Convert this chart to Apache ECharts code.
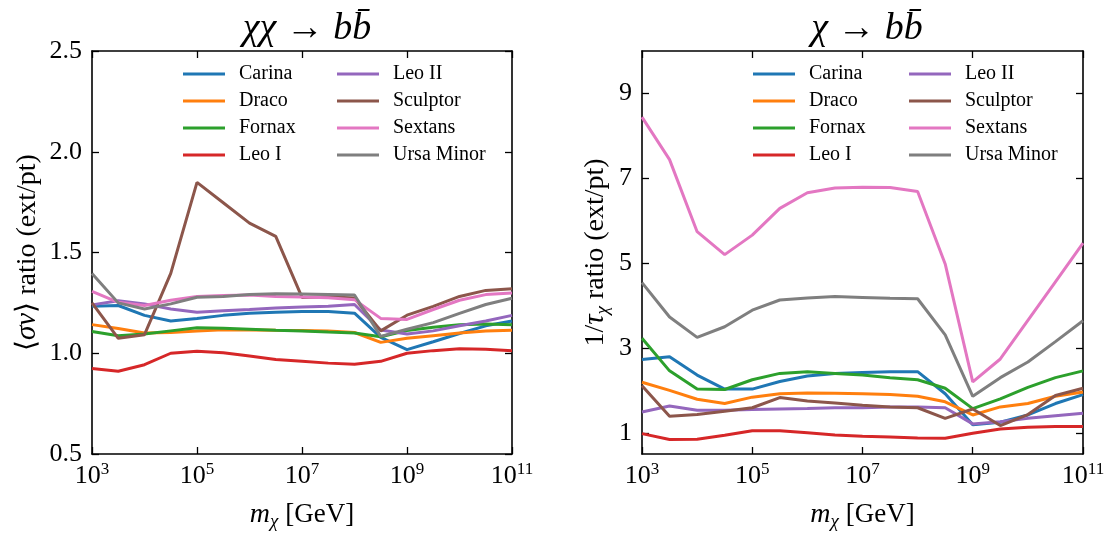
<!DOCTYPE html>
<html><head><meta charset="utf-8">
<script src="https://cdn.jsdelivr.net/npm/echarts@6/dist/echarts.min.js"></script>
<style>html,body{margin:0;padding:0;background:#fff}#c{width:1111px;height:536px}</style>
</head><body><div id="c"></div>
<script>
// DM masses [GeV], half-decade steps
const masses = [1e3, 3.162e3, 1e4, 3.162e4, 1e5, 3.162e5, 1e6, 3.162e6, 1e7, 3.162e7, 1e8, 3.162e8, 1e9, 3.162e9, 1e10, 3.162e10, 1e11];
const names = ['Carina', 'Draco', 'Fornax', 'Leo I', 'Leo II', 'Sculptor', 'Sextans', 'Ursa Minor'];
const colors = ['#1f77b4', '#ff7f0e', '#2ca02c', '#d62728', '#9467bd', '#8c564b', '#e377c2', '#7f7f7f'];

// Left panel: <sigma v> ratio (ext/pt), chi chi -> b bbar
const annCarina    = [1.233, 1.237, 1.188, 1.160, 1.173, 1.188, 1.198, 1.204, 1.207, 1.207, 1.199, 1.079, 1.018, 1.057, 1.098, 1.136, 1.160];
const annDraco     = [1.142, 1.123, 1.100, 1.103, 1.111, 1.116, 1.116, 1.114, 1.113, 1.110, 1.103, 1.054, 1.074, 1.087, 1.100, 1.110, 1.114];
const annFornax    = [1.108, 1.087, 1.095, 1.111, 1.126, 1.124, 1.119, 1.114, 1.110, 1.105, 1.101, 1.082, 1.113, 1.129, 1.142, 1.145, 1.142];
const annLeoI      = [0.924, 0.911, 0.943, 1.000, 1.010, 1.002, 0.986, 0.969, 0.960, 0.951, 0.945, 0.960, 1.000, 1.013, 1.022, 1.020, 1.013];
const annLeoII     = [1.240, 1.261, 1.245, 1.220, 1.204, 1.211, 1.217, 1.225, 1.230, 1.233, 1.242, 1.115, 1.095, 1.111, 1.136, 1.160, 1.188];
const annSculptor  = [1.250, 1.074, 1.092, 1.396, 1.848, 1.747, 1.646, 1.580, 1.277, 1.280, 1.274, 1.111, 1.189, 1.233, 1.282, 1.312, 1.320];
const annSextans   = [1.307, 1.253, 1.237, 1.263, 1.282, 1.286, 1.289, 1.282, 1.279, 1.276, 1.266, 1.173, 1.168, 1.217, 1.263, 1.291, 1.299];
const annUrsaMinor = [1.396, 1.250, 1.220, 1.245, 1.278, 1.282, 1.292, 1.295, 1.294, 1.292, 1.289, 1.084, 1.119, 1.152, 1.198, 1.242, 1.273];

// Right panel: 1/tau ratio (ext/pt), chi -> b bbar
const decCarina    = [2.73, 2.79, 2.36, 2.03, 2.03, 2.21, 2.34, 2.40, 2.42, 2.44, 2.44, 1.92, 1.19, 1.25, 1.42, 1.69, 1.90];
const decDraco     = [2.19, 2.00, 1.79, 1.69, 1.84, 1.92, 1.94, 1.93, 1.92, 1.90, 1.86, 1.73, 1.42, 1.61, 1.69, 1.86, 1.96];
const decFornax    = [3.23, 2.46, 2.03, 2.02, 2.25, 2.40, 2.44, 2.40, 2.36, 2.30, 2.25, 2.05, 1.57, 1.80, 2.07, 2.30, 2.46];
const decLeoI      = [0.98, 0.84, 0.85, 0.94, 1.05, 1.05, 1.00, 0.95, 0.92, 0.90, 0.88, 0.87, 0.99, 1.09, 1.13, 1.15, 1.15];
const decLeoII     = [1.49, 1.63, 1.53, 1.53, 1.55, 1.56, 1.57, 1.59, 1.59, 1.61, 1.61, 1.59, 1.21, 1.26, 1.34, 1.40, 1.46];
const decSculptor  = [2.11, 1.39, 1.43, 1.51, 1.59, 1.83, 1.75, 1.70, 1.65, 1.61, 1.59, 1.34, 1.56, 1.17, 1.43, 1.88, 2.05];
const decSextans   = [8.44, 7.44, 5.74, 5.20, 5.66, 6.29, 6.66, 6.77, 6.79, 6.78, 6.69, 4.98, 2.20, 2.74, 3.65, 4.56, 5.47];
const decUrsaMinor = [4.54, 3.73, 3.25, 3.50, 3.89, 4.13, 4.18, 4.21, 4.19, 4.17, 4.16, 3.31, 1.86, 2.30, 2.67, 3.15, 3.64];

const xTicks = [1e3, 1e5, 1e7, 1e9, 1e11];
const yTicksLeft = [0.5, 1.0, 1.5, 2.0, 2.5];
const yTicksRight = [1, 3, 5, 7, 9];

const annSets = [annCarina, annDraco, annFornax, annLeoI, annLeoII, annSculptor, annSextans, annUrsaMinor];
const decSets = [decCarina, decDraco, decFornax, decLeoI, decLeoII, decSculptor, decSextans, decUrsaMinor];

const FONT = 'Liberation Serif';
const chart = echarts.init(document.getElementById('c'), null, {renderer: 'canvas'});

const grids = [
  {left: 92, top: 51, width: 420, height: 409},
  {left: 642, top: 51, width: 441, height: 409}
];

function xAx(gi, pos, showLabel) {
  return {
    type: 'log', logBase: 10, gridIndex: gi, position: pos, min: 1e3, max: 1e11,
    axisLine: {show: true, onZero: false, lineStyle: {color: '#000', width: 1.6}},
    axisTick: {show: true, inside: true, length: 7, lineStyle: {color: '#000', width: 1.3}, customValues: xTicks},
    axisLabel: {show: showLabel, customValues: xTicks, margin: 7,
      formatter: v => '{b|10}{s|' + Math.round(Math.log10(v)) + '}',
      rich: {b: {fontFamily: FONT, fontSize: 26, color: '#000', verticalAlign: 'bottom', lineHeight: 28},
             s: {fontFamily: FONT, fontSize: 17, color: '#000', verticalAlign: 'top', lineHeight: 28}}},
    splitLine: {show: false}, minorTick: {show: false},
    name: showLabel ? '{i|m}{sub|χ}{n| [GeV]}' : '', nameLocation: 'middle', nameGap: 44,
    nameTextStyle: {fontFamily: FONT, fontSize: 27, color: '#000',
      rich: {i: {fontFamily: FONT, fontStyle: 'italic', fontSize: 28, color: '#000'},
             n: {fontFamily: FONT, fontSize: 27, color: '#000'},
             sub: {fontFamily: FONT, fontStyle: 'italic', fontSize: 19, color: '#000', verticalAlign: 'bottom', padding: [14, 0, 0, 0]}}}
  };
}

function yAx(gi, pos, showLabel, min, max, ticks, fmt, name, nameGap) {
  return {
    type: 'value', gridIndex: gi, position: pos, min: min, max: max,
    axisLine: {show: true, onZero: false, lineStyle: {color: '#000', width: 1.6}},
    axisTick: {show: true, inside: true, length: 7, lineStyle: {color: '#000', width: 1.3}, customValues: ticks},
    axisLabel: {show: showLabel, customValues: ticks, formatter: fmt, margin: 10,
      fontFamily: FONT, fontSize: 26, color: '#000'},
    splitLine: {show: false},
    name: showLabel ? name : '', nameLocation: 'middle', nameGap: nameGap, nameRotate: 90,
    nameTextStyle: {fontFamily: FONT, fontSize: 28, color: '#000',
      rich: {i: {fontFamily: FONT, fontStyle: 'italic', fontSize: 29, color: '#000'},
             n: {fontFamily: FONT, fontSize: 28, color: '#000'},
             sub: {fontFamily: FONT, fontStyle: 'italic', fontSize: 19, color: '#000', padding: [14, 0, 0, 0]}}}
  };
}

const xAxes = [xAx(0, 'bottom', true), xAx(0, 'top', false), xAx(1, 'bottom', true), xAx(1, 'top', false)];
const yAxes = [
  yAx(0, 'left', true, 0.5, 2.5, yTicksLeft, v => v.toFixed(1), '{n|⟨}{i|σv}{n|⟩ ratio (ext/pt)}', 50),
  yAx(0, 'right', false, 0.5, 2.5, yTicksLeft, v => v.toFixed(1), '', 0),
  yAx(1, 'left', true, 0.5, 10, yTicksRight, v => String(v), '{n|1/}{i|τ}{sub|χ}{n| ratio (ext/pt)}', 30),
  yAx(1, 'right', false, 0.5, 10, yTicksRight, v => String(v), '', 0)
];

const series = [];
names.forEach((nm, i) => {
  series.push({name: nm, type: 'line', xAxisIndex: 0, yAxisIndex: 0, symbol: 'none', silent: true,
    data: masses.map((m, k) => [m, annSets[i][k]]), color: colors[i],
    lineStyle: {width: 3, color: colors[i]}, z: 2});
});
names.forEach((nm, i) => {
  series.push({name: nm, type: 'line', xAxisIndex: 2, yAxisIndex: 2, symbol: 'none', silent: true,
    data: masses.map((m, k) => [m, decSets[i][k]]), color: colors[i],
    lineStyle: {width: 3, color: colors[i]}, z: 2});
});

function legend(left, data) {
  return {left: left, top: 63, orient: 'vertical', data: data, icon: 'rect', itemWidth: 42, itemHeight: 3,
    itemGap: 5, padding: 0, selectedMode: false,
    textStyle: {fontFamily: FONT, fontSize: 20, color: '#000', lineHeight: 22, padding: [0, 0, 0, 9]}};
}

const titleRich = {m: {fontFamily: FONT, fontStyle: 'italic', fontWeight: 'normal', fontSize: 38, color: '#000'},
                   n: {fontFamily: FONT, fontWeight: 'normal', fontSize: 38, color: '#000'}};

chart.setOption({
  animation: false,
  backgroundColor: '#fff',
  title: [
    {text: '{m|χχ}{n| → }{m|b}{m|b̄}', left: 302, top: 5, textAlign: 'center', textStyle: {fontWeight: 'normal', rich: titleRich}},
    {text: '{m|χ}{n| → }{m|b}{m|b̄}', left: 862, top: 5, textAlign: 'center', textStyle: {fontWeight: 'normal', rich: titleRich}}
  ],
  legend: [
    legend(183, names.slice(0, 4)), legend(337, names.slice(4)),
    legend(753, names.slice(0, 4)), legend(909, names.slice(4))
  ],
  grid: grids,
  xAxis: xAxes,
  yAxis: yAxes,
  series: series
});
</script></body></html>
